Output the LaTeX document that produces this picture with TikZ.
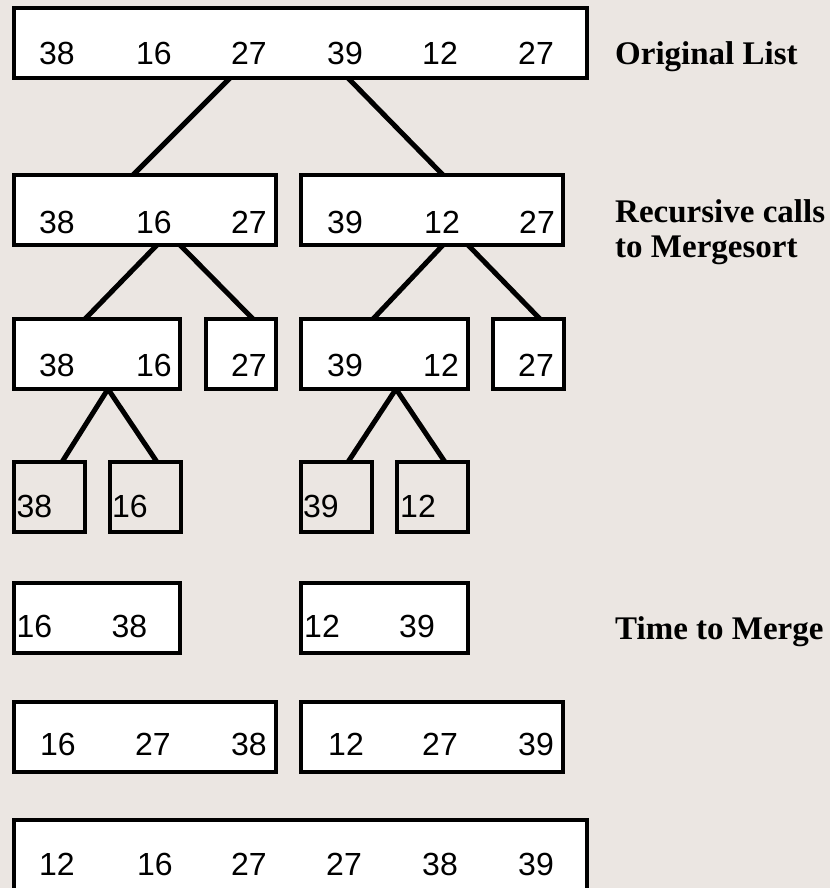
\documentclass[tikz,border=0pt]{standalone}
\usepackage{fontspec}
\setmainfont{Liberation Serif}
\newfontfamily\digitfont{Liberation Sans}
\usetikzlibrary{positioning}
\definecolor{softbeige}{RGB}{235,230,226}

\begin{document}
\begin{tikzpicture}[
    x=1pt, y=-1pt,
    cell/.style={draw, line width=3.5pt, fill=white, inner sep=0pt, outer sep=0pt, anchor=north west, minimum height=70pt},
    leaf/.style={cell, fill=none, minimum width=71pt},
    num/.style={font=\digitfont\fontsize{32}{32}\selectfont, anchor=base, inner sep=0pt},
    note/.style={font=\bfseries\fontsize{33}{35}\selectfont, anchor=base west, align=left, inner sep=0pt},
    link/.style={line width=5pt}
  ]
    \fill[softbeige] (0,0) rectangle (830,888);
    \useasboundingbox (0,0) rectangle (830,888);

    % split phase
    \node[cell, minimum width=573pt] (orig) at (14,8) {};
    \node[cell, minimum width=262pt] (lhalf) at (14,175) {};
    \node[cell, minimum width=262pt] (rhalf) at (301,175) {};
    \node[cell, minimum width=166pt] (lpair) at (14,319) {};
    \node[cell, minimum width=70pt] (lsingle) at (206,319) {};
    \node[cell, minimum width=167pt] (rpair) at (301,319) {};
    \node[cell, minimum width=71pt] (rsingle) at (493,319) {};
    \node[leaf] (la) at (14,462) {};
    \node[leaf] (lb) at (110,462) {};
    \node[leaf] (ra) at (301,462) {};
    \node[leaf] (rb) at (397,462) {};

    % merge phase
    \node[cell, minimum width=166pt] (lmerge) at (14,583) {};
    \node[cell, minimum width=167pt] (rmerge) at (301,583) {};
    \node[cell, minimum width=262pt] (lsorted) at (14,702) {};
    \node[cell, minimum width=262pt] (rsorted) at (301,702) {};
    \node[cell, minimum width=573pt] (final) at (14,820) {};

    \foreach \x/\v [count=\i] in {57/38,154/16,249/27,345/39,440/12,536/27}
      \node[num] (orig-\i) at (\x,65) {\v};
    \foreach \x/\v [count=\i] in {57/38,154/16,249/27,345/39,442/12,537/27}
      \node[num] (half-\i) at (\x,233) {\v};
    \foreach \x/\v [count=\i] in {57/38,154/16,249/27,345/39,441/12,536/27}
      \node[num] (pair-\i) at (\x,376) {\v};
    \foreach \x/\v [count=\i] in {34.5/38,130/16,321/39,418/12}
      \node[num] (one-\i) at (\x,517) {\v};
    \foreach \x/\v [count=\i] in {34.5/16,129.5/38,322/12,417/39}
      \node[num] (merge-\i) at (\x,637) {\v};
    \foreach \x/\v [count=\i] in {58/16,153/27,249/38,346/12,440/27,536/39}
      \node[num] (sorted-\i) at (\x,755) {\v};
    \foreach \x/\v [count=\i] in {57/12,155/16,249/27,344/27,440/38,536/39}
      \node[num] (final-\i) at (\x,875) {\v};

    \node[note] (lblorig) at (615,65) {Original List};
    \node[note] (lblcalls) at (615,257) {Recursive calls\\to Mergesort};
    \node[note] (lblmerge) at (615,639) {Time to Merge};

    \draw[link] ([xshift=216pt]orig.south west) -- ([xshift=119pt]lhalf.north west);
    \draw[link] ([xshift=334pt]orig.south west) -- ([xshift=142pt]rhalf.north west);
    \draw[link] ([xshift=143pt]lhalf.south west) -- ([xshift=71pt]lpair.north west);
    \draw[link] ([xshift=166pt]lhalf.south west) -- ([xshift=47pt]lsingle.north west);
    \draw[link] ([xshift=142pt]rhalf.south west) -- ([xshift=72pt]rpair.north west);
    \draw[link] ([xshift=167pt]rhalf.south west) -- ([xshift=47pt]rsingle.north west);
    \draw[link] ([xshift=94pt]lpair.south west) -- ([xshift=48pt]la.north west);
    \draw[link] ([xshift=94pt]lpair.south west) -- ([xshift=47pt]lb.north west);
    \draw[link] ([xshift=95pt]rpair.south west) -- ([xshift=47pt]ra.north west);
    \draw[link] ([xshift=95pt]rpair.south west) -- ([xshift=48pt]rb.north west);
  \end{tikzpicture}
\end{document}
